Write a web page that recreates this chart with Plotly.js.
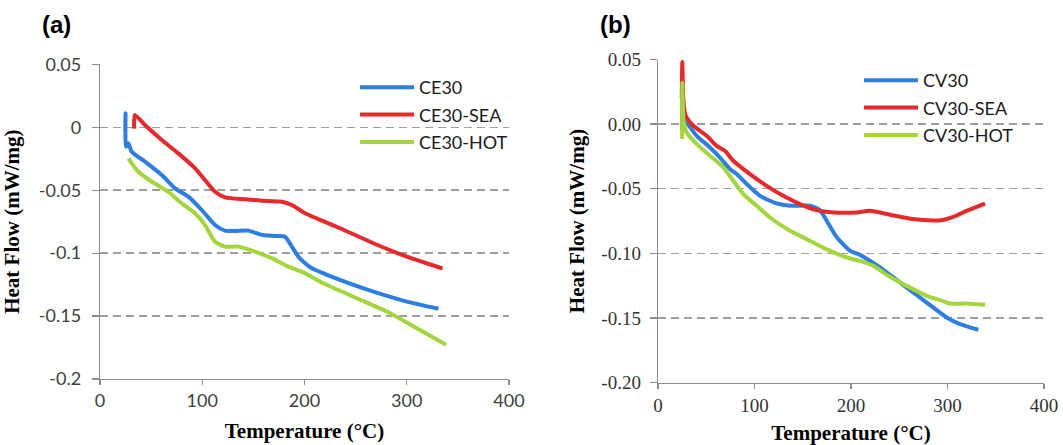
<!DOCTYPE html>
<html>
<head>
<meta charset="utf-8">
<script src="https://cdn.plot.ly/plotly-3.0.1.min.js"></script>
<style>html,body{margin:0;padding:0;background:#fff;}#chart{width:1063px;height:445px;}</style>
</head>
<body>
<div id="chart"></div>
<script>
// ---------- Panel (a) data: temperature (°C) and heat flow (mW/mg) ----------
const ce30_T   = [24.7, 25.0, 25.4, 27.7, 31.0, 44.0, 60.4, 73.4, 86.4, 99.5, 112.5, 122.3, 132.1, 145.1, 158.2, 171.2, 181.0, 187.6, 194.0, 200.6, 205.5, 234.8, 267.4, 300.1, 331.0];
const ce30_HF  = [-0.004, 0.0111, -0.0154, -0.0127, -0.0194, -0.0273, -0.0379, -0.0485, -0.0551, -0.0657, -0.0776, -0.0821, -0.0824, -0.0821, -0.0855, -0.0863, -0.0869, -0.0948, -0.1028, -0.1080, -0.1112, -0.1213, -0.1306, -0.1385, -0.1442];

const ce30sea_T  = [33.4, 34.0, 44.0, 60.4, 76.6, 93.0, 102.7, 112.5, 122.3, 141.9, 158.2, 177.8, 187.6, 200.6, 234.8, 267.4, 300.1, 335.0];
const ce30sea_HF = [-0.0010, 0.0098, 0.0018, -0.0101, -0.0207, -0.0326, -0.0419, -0.0512, -0.0556, -0.0572, -0.0583, -0.0591, -0.0617, -0.0683, -0.0802, -0.0921, -0.1028, -0.1122];

const ce30hot_T  = [27.7, 37.5, 50.6, 66.8, 79.9, 93.0, 102.7, 112.5, 122.3, 135.3, 151.7, 168.0, 184.2, 200.6, 218.5, 251.2, 283.8, 309.9, 338.4];
const ce30hot_HF = [-0.0246, -0.0353, -0.0432, -0.0512, -0.0604, -0.0683, -0.0776, -0.0909, -0.0948, -0.0948, -0.0988, -0.1040, -0.1107, -0.1160, -0.1239, -0.1358, -0.1477, -0.1597, -0.1727];

// ---------- Panel (b) data ----------
const cv30_T   = [25.0, 25.3, 26.5, 29.7, 40.1, 53.9, 64.2, 74.6, 81.6, 91.9, 105.7, 123.0, 136.8, 157.5, 167.9, 174.8, 185.2, 199.0, 209.3, 230.0, 257.7, 278.4, 299.2, 313.0, 331.9];
const cv30_HF  = [-0.005, 0.020, 0.004, 0.0012, -0.0091, -0.0181, -0.0259, -0.0348, -0.0387, -0.0464, -0.0555, -0.0614, -0.0632, -0.0632, -0.0666, -0.0748, -0.0875, -0.0981, -0.1012, -0.1110, -0.1265, -0.1381, -0.1497, -0.1548, -0.1592];

const cv30sea_T  = [24.6, 25.2, 26.2, 28.0, 29.7, 36.6, 50.5, 60.8, 69.4, 78.0, 95.3, 112.6, 129.8, 147.2, 164.5, 181.7, 205.9, 219.7, 240.4, 264.6, 280.0, 292.2, 306.0, 319.9, 338.9];
const cv30sea_HF = [0.020, 0.048, 0.020, 0.008, 0.0051, -0.0013, -0.0091, -0.0168, -0.0207, -0.0284, -0.0387, -0.0478, -0.0555, -0.0619, -0.0666, -0.0684, -0.0684, -0.0671, -0.0702, -0.0735, -0.0745, -0.0746, -0.0718, -0.0671, -0.0615];

const cv30hot_T  = [25.0, 25.2, 26.5, 28.5, 29.7, 40.1, 53.9, 67.7, 78.0, 88.4, 102.3, 116.1, 136.8, 157.5, 178.2, 199.0, 209.3, 223.1, 240.4, 257.7, 278.4, 292.2, 302.6, 319.9, 338.9];
const cv30hot_HF = [-0.0116, 0.032, 0.002, -0.004, -0.0065, -0.0155, -0.0245, -0.0336, -0.0439, -0.0542, -0.0632, -0.0723, -0.0826, -0.0903, -0.0981, -0.1040, -0.1058, -0.1097, -0.1182, -0.1252, -0.1329, -0.1362, -0.1389, -0.1389, -0.1399];

// ---------- Labels ----------
const namesA = ['CE30', 'CE30-SEA', 'CE30-HOT'];
const namesB = ['CV30', 'CV30-SEA', 'CV30-HOT'];
const xTicks = [0, 100, 200, 300, 400];
const yTicks = [0.05, 0, -0.05, -0.1, -0.15, -0.2];
const yTextA = ['0.05', '0', '-0.05', '-0.1', '-0.15', '-0.2'];
const yTextB = ['0.05', '0.00', '-0.05', '-0.10', '-0.15', '-0.20'];
const xText  = ['0', '100', '200', '300', '400'];

const colors = ['#2B7FE3', '#E8282B', '#A3D63B'];
const W = 1063, H = 445;

function tr(x, y, name, color, xa, ya, leg) {
  return {x: x, y: y, name: name, type: 'scatter', mode: 'lines',
          line: {color: color, width: 4, shape: 'spline', smoothing: 0.6}, xaxis: xa, yaxis: ya,
          legend: leg, legendgroup: name, hoverinfo: 'skip'};
}

const data = [
  tr(ce30_T, ce30_HF, namesA[0], colors[0], 'x', 'y', 'legend'),
  tr(ce30sea_T, ce30sea_HF, namesA[1], colors[1], 'x', 'y', 'legend'),
  tr(ce30hot_T, ce30hot_HF, namesA[2], colors[2], 'x', 'y', 'legend'),
  tr(cv30_T, cv30_HF, namesB[0], colors[0], 'x2', 'y2', 'legend2'),
  tr(cv30sea_T, cv30sea_HF, namesB[1], colors[1], 'x2', 'y2', 'legend2'),
  tr(cv30hot_T, cv30hot_HF, namesB[2], colors[2], 'x2', 'y2', 'legend2')
];

const gridCol = '#9E9E9E', axCol = '#8C8C8C';
const sansTick = {family: 'Lato, "Open Sans", sans-serif', size: 18, color: '#404040'};
const serifTick = {family: '"Liberation Serif", "Times New Roman", serif', size: 19, color: '#333333'};
const titleFont = {family: '"Liberation Serif", "Times New Roman", serif', size: 21, color: '#000000', weight: 'bold'};

function xaxis(domain, anchor, tf) {
  return {domain: domain, anchor: anchor, range: [0, 400], tickvals: xTicks, ticktext: xText,
          showgrid: false, zeroline: false, showline: true, linecolor: axCol, linewidth: 1.3,
          ticks: 'outside', ticklen: 5, tickcolor: axCol, tickwidth: 1.3, tickfont: tf,
          title: {text: 'Temperature (°C)', font: titleFont, standoff: 13}, fixedrange: true};
}
function yaxis(domain, anchor, tf, tt, lso, tso) {
  return {domain: domain, anchor: anchor, range: [-0.2, 0.05], tickvals: yTicks, ticktext: tt,
          showgrid: true, gridcolor: gridCol, gridwidth: 1.5, griddash: '8px,5px',
          zeroline: false, showline: true, linecolor: axCol, linewidth: 1.3,
          ticks: 'outside', ticklen: 7, tickcolor: axCol, tickwidth: 1.3, tickfont: tf,
          ticklabelstandoff: lso,
          title: {text: 'Heat Flow (mW/mg)', font: titleFont, standoff: tso}, fixedrange: true};
}

const legendFont = {family: 'Lato, "Open Sans", sans-serif', size: 18, color: '#1a1a1a'};
const layout = {
  width: W, height: H, margin: {l: 0, r: 0, t: 0, b: 0},
  paper_bgcolor: '#ffffff', plot_bgcolor: '#ffffff',
  showlegend: true,
  xaxis: xaxis([100 / W, 509 / W], 'y', sansTick),
  yaxis: yaxis([(H - 379) / H, (H - 64.4) / H], 'x', sansTick, yTextA, 7, 14),
  xaxis2: xaxis([658 / W, 1044 / W], 'y2', serifTick),
  yaxis2: yaxis([(H - 382.5) / H, (H - 59.5) / H], 'x2', serifTick, yTextB, 5, 11),
  legend: {x: 355 / W, y: 1 - 69 / H, xanchor: 'left', yanchor: 'top', bgcolor: 'rgba(0,0,0,0)',
           font: legendFont, itemwidth: 54, traceorder: 'grouped', tracegroupgap: 1, itemclick: false, itemdoubleclick: false},
  legend2: {x: 859 / W, y: 1 - 62 / H, xanchor: 'left', yanchor: 'top', bgcolor: 'rgba(0,0,0,0)',
           font: legendFont, itemwidth: 54, traceorder: 'grouped', tracegroupgap: 1, itemclick: false, itemdoubleclick: false},
  annotations: [
    {text: '<b>(a)</b>', xref: 'paper', yref: 'paper', x: 56 / W, y: 1 - 24 / H, xanchor: 'center', yanchor: 'middle',
     showarrow: false, font: {family: '"Liberation Sans", Arial, sans-serif', size: 24, color: '#000'}},
    {text: '<b>(b)</b>', xref: 'paper', yref: 'paper', x: 615 / W, y: 1 - 24 / H, xanchor: 'center', yanchor: 'middle',
     showarrow: false, font: {family: '"Liberation Sans", Arial, sans-serif', size: 24, color: '#000'}}
  ]
};

Plotly.newPlot('chart', data, layout, {staticPlot: true, displayModeBar: false}).then(function (gd) {
  // lengthen legend sample lines to match the reference
  gd.querySelectorAll('g.legendlines path').forEach(function (p) { p.setAttribute('d', 'M5,0h54'); p.style.strokeWidth = '4px'; });
});
</script>
</body>
</html>
